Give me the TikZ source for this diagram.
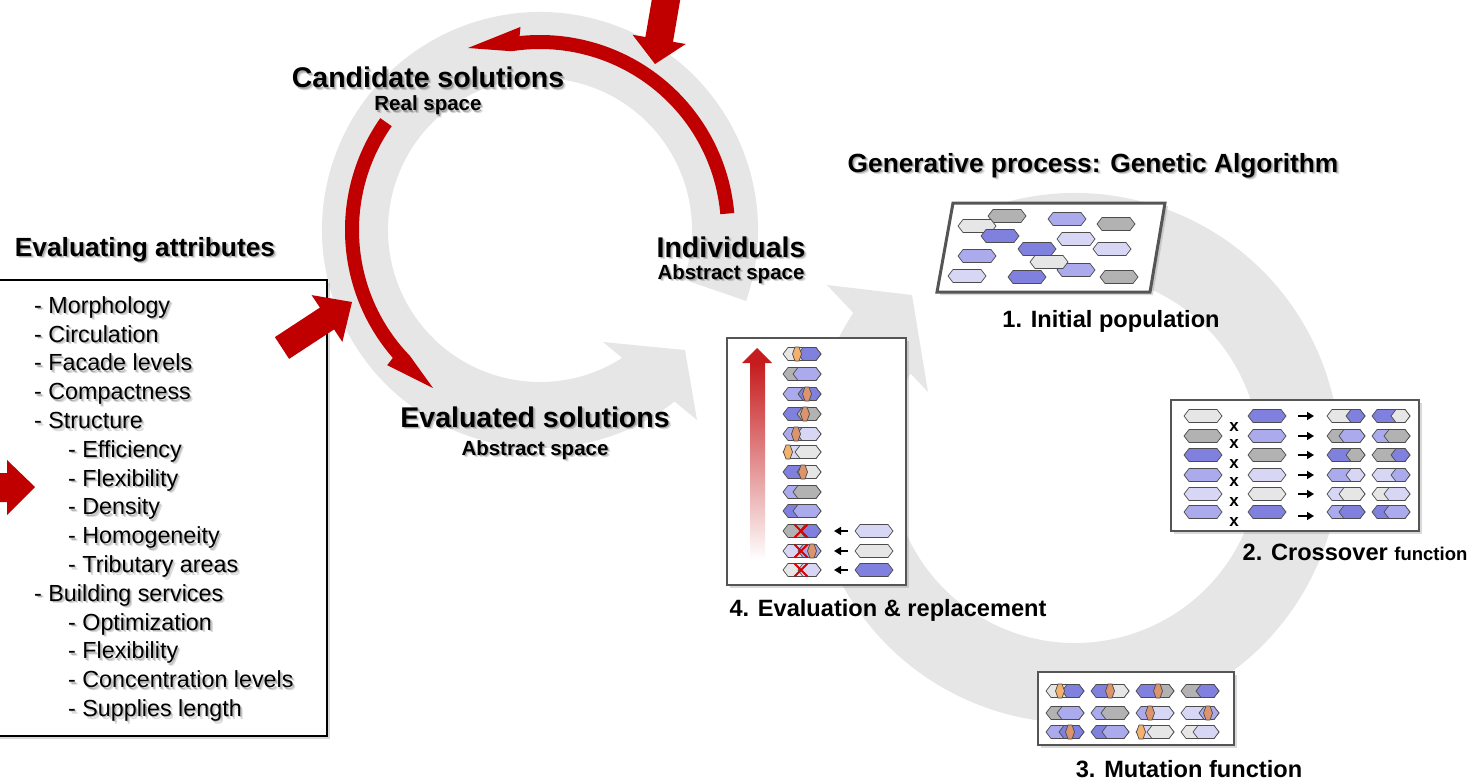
\documentclass[tikz,border=0pt]{standalone}
\usepackage{fontspec}
\setmainfont{Liberation Sans}
\usetikzlibrary{arrows.meta,calc,shadows}

\definecolor{ringgray}{RGB}{230,230,230}
\definecolor{darkred}{RGB}{192,0,0}
\definecolor{gradred}{RGB}{198,28,30}
\definecolor{xred}{RGB}{220,0,0}
\definecolor{gLight}{RGB}{230,230,230}
\definecolor{gDark}{RGB}{178,178,178}
\definecolor{bDark}{RGB}{128,128,222}
\definecolor{bMid}{RGB}{170,170,236}
\definecolor{bLight}{RGB}{215,215,245}
\definecolor{oLight}{RGB}{244,177,110}
\definecolor{oDark}{RGB}{220,148,108}
\definecolor{boxline}{RGB}{85,85,85}

\newcommand{\fsz}[1]{\fontsize{#1}{#1}\selectfont}

% text with a soft shadow: style, name, position, text
\newcommand{\shnode}[4]{%
  \node[#1, opacity=0.14] (#2-sb) at ($(#3)+(2.6,-2.6)$) {#4};
  \node[#1, opacity=0.22] (#2-sa) at ($(#3)+(1.3,-1.3)$) {#4};
  \node[#1] (#2) at (#3) {#4};}
% chromosome: x, y, colour
\newcommand{\chrom}[3]{%
  \filldraw[chromo, fill=#3] (#1-19,#2) -- (#1-14,#2+6.5) -- (#1+14,#2+6.5) -- (#1+19,#2)
    -- (#1+14,#2-6.5) -- (#1-14,#2-6.5) -- cycle;}
% two-part chromosome: x, y, left colour, right colour, split offset
\newcommand{\chromsplit}[5]{%
  \chrom{#1}{#2}{#3}
  \filldraw[chromo, fill=#4] (#1+#5-5,#2) -- (#1+#5,#2+6.5) -- (#1+14,#2+6.5) -- (#1+19,#2)
    -- (#1+14,#2-6.5) -- (#1+#5,#2-6.5) -- cycle;}
% mutated gene: x, y, colour
\newcommand{\mutgene}[3]{%
  \filldraw[chromo, fill=#3] (#1-4.5,#2) -- (#1-2,#2+7) -- (#1+2,#2+7) -- (#1+4.5,#2)
    -- (#1+2,#2-7) -- (#1-2,#2-7) -- cycle;}
% rejected individual
\newcommand{\redcross}[2]{%
  \draw[redx] (#1-6.5,#2-6.5) -- (#1+6.5,#2+6.5) (#1-6.5,#2+6.5) -- (#1+6.5,#2-6.5);}

\begin{document}
\begin{tikzpicture}[x=1pt, y=1pt,
  chromo/.style={draw=gray!60!black, line width=0.7},
  panel/.style={draw=boxline, line width=2.2, fill=white,
    drop shadow={shadow xshift=3pt, shadow yshift=-3pt, opacity=0.3}},
  lbltitle/.style={font=\bfseries\fsz{28.5}, anchor=base},
  lblsub/.style={font=\bfseries\fsz{20.5}, anchor=base},
  lblhead/.style={font=\bfseries\fsz{26.3}, anchor=base},
  lblstep/.style={font=\bfseries\fsz{23.6}, anchor=base},
  attr/.style={font=\fsz{23.3}, anchor=base west, inner sep=0pt},
  crossmark/.style={font=\bfseries\fsz{17}, inner sep=0pt},
  minarrow/.style={-{Triangle[length=7pt,width=8pt]}, line width=1.6pt},
  redx/.style={draw=xred, line width=2},
]
  \useasboundingbox (0,0) rectangle (1478,-781);

  \coordinate (L) at (540,-230);
  \coordinate (R) at (1075,-458);

  % 1. Grey cycles
  \fill[ringgray] ($(L)+(-19:218)$) arc[start angle=-19, end angle=308.1, radius=218]
    -- (697,-420) -- (685,-350) -- (603,-342)
    -- ($(L)+(302.7:152)$) arc[start angle=302.7, end angle=-19, radius=152] -- cycle;
  \fill[ringgray] ($(R)+(112:265)$) arc[start angle=112, end angle=-213.2, radius=265]
    -- (827,-285) -- (912,-295) -- (928,-392)
    -- ($(R)+(-207.2:185)$) arc[start angle=-207.2, end angle=112, radius=185] -- cycle;

  % 2. Red arcs of the left cycle
  \fill[darkred] ($(L)+(5:195)$) arc[start angle=5, end angle=96, radius=195]
    -- ($(L)+(95.5:204)$) -- (468,-48)
    -- ($(L)+(99:181)$) arc[start angle=99, end angle=5, radius=181] -- cycle;
  \fill[darkred] ($(L)+(145:195)$) arc[start angle=145, end angle=221, radius=195]
    -- ($(L)+(221.5:204)$) -- (433,-388)
    -- ($(L)+(224:181)$) arc[start angle=224, end angle=145, radius=181] -- cycle;

  % 3. Evaluating attributes
  \draw[panel, draw=black, line width=2] (-5,-280) rectangle (327,-736);
  \shnode{lblhead}{attrtitle}{145,-256}{Evaluating attributes}
  \foreach \ind/\txt [count=\i] in {0/Morphology, 0/Circulation, 0/Facade levels,
      0/Compactness, 0/Structure, 34/Efficiency, 34/Flexibility, 34/Density,
      34/Homogeneity, 34/Tributary areas, 0/Building services, 34/Optimization,
      34/Flexibility, 34/Concentration levels, 34/Supplies length} {
    \shnode{attr}{attr\i}{{34+\ind},{-313.3-28.8*(\i-1)}}{- \txt}
  }

  % 4. Red arrows
  \fill[darkred] (653,7.4) -- (645.4,-37) -- (632.6,-34.8) -- (655,-64)
    -- (685.8,-44) -- (673,-41.8) -- (680.6,2.6) -- cycle;
  \fill[darkred] (274.9,-337.1) -- (319.9,-307.6) -- (311.6,-295.1) -- (352,-302)
    -- (342.4,-341.9) -- (334.1,-329.4) -- (289.1,-358.9) -- cycle;
  \fill[darkred] (-5,-473) -- (7,-473) -- (7,-460) -- (35,-487) -- (7,-515)
    -- (7,-502) -- (-5,-502) -- cycle;

  % 5. Labels of the left cycle
  \shnode{lbltitle}{cand}{428,-88}{Candidate solutions}
  \shnode{lblsub}{candsub}{428,-111}{Real space}
  \shnode{lbltitle}{indiv}{731,-257}{Individuals}
  \shnode{lblsub}{indivsub}{731,-279}{Abstract space}
  \shnode{lbltitle}{evald}{535,-427}{Evaluated solutions}
  \shnode{lblsub}{evaldsub}{535,-455}{Abstract space}

  % 6. Genetic algorithm
  \shnode{lblhead}{gatitle}{1093,-172}{Generative process: Genetic Algorithm}

  % 6a. initial population
  \draw[panel, line width=3] (953,-203) -- (1165,-203) -- (1150,-292) -- (937,-292) -- cycle;
  \foreach \x/\y/\c in {1007/216/gDark, 977/226/gLight, 1067/219/bMid, 1116/224/gDark,
      1000/236/bDark, 1076/239/bLight, 1112/249/bLight, 1037/249/bDark, 977/256/bMid,
      1076/270/bMid, 1049/262/gLight, 967/276/bLight, 1027/277/bDark, 1119/277/gDark}
    \chrom{\x}{-\y}{\c};
  \node[lblstep] (step1) at (1111,-327) {1. Initial population};

  % 6b. crossover
  \draw[panel] (1171,-400) rectangle (1419,-531);
  \foreach \y/\pa/\pb/\s in {416/gLight/bDark/5, 436/gDark/bMid/-2, 455/bDark/gDark/5,
      475/bMid/bLight/5, 494/bLight/gLight/-2, 512/bMid/bDark/-2} {
    \chrom{1203}{-\y}{\pa}
    \chrom{1267}{-\y}{\pb}
    \chromsplit{1346}{-\y}{\pa}{\pb}{\s}
    \chromsplit{1391}{-\y}{\pb}{\pa}{\s}
  }
  \foreach \y in {427,444,464,482,502,522}
    \node[crossmark] (cx\y) at (1234,-\y) {x};
  \foreach \y in {416,436,455,475,494,516}
    \draw[minarrow] (1298,-\y) -- (1314,-\y);
  \node[lblstep] (step2) at (1355,-560) {2. Crossover {\fsz{18.5}function}};

  % 6c. mutation
  \draw[panel] (1038,-672) rectangle (1234,-745);
  \chromsplit{1065}{-691}{gLight}{bDark}{2}   \mutgene{1060}{-691}{oLight}
  \chromsplit{1110}{-691}{bDark}{gLight}{2}   \mutgene{1110}{-691}{oDark}
  \chromsplit{1155}{-691}{bDark}{gDark}{5}    \mutgene{1158}{-691}{oDark}
  \chromsplit{1200}{-691}{gDark}{bDark}{1}
  \chromsplit{1065}{-713}{gDark}{bMid}{-3}
  \chromsplit{1110}{-713}{bMid}{gDark}{-4}
  \chromsplit{1155}{-713}{bMid}{bLight}{-2}   \mutgene{1150}{-713}{oDark}
  \chromsplit{1200}{-713}{bLight}{bMid}{4}    \mutgene{1208}{-713}{oDark}
  \chromsplit{1065}{-732}{bMid}{bDark}{-1}    \mutgene{1070}{-732}{oDark}
  \chromsplit{1110}{-732}{bDark}{bMid}{-3}
  \chromsplit{1155}{-732}{bLight}{gLight}{-3} \mutgene{1141}{-732}{oLight}
  \chromsplit{1200}{-732}{gLight}{bLight}{-2}
  \node[lblstep] (step3) at (1189,-777) {3. Mutation function};

  % 6d. evaluation & replacement
  \draw[panel] (727,-338) rectangle (906,-585);
  \shade[top color=gradred, bottom color=white] (750,-363) rectangle (765,-560);
  \fill[gradred] (742,-363) -- (757,-348) -- (772,-363) -- cycle;
  \foreach \y/\ca/\cb/\s in {354/gLight/bDark/1, 374/gDark/bMid/-4, 394/bMid/bDark/1,
      414/bDark/gDark/0, 434/bMid/bLight/0, 452/bLight/gLight/-2, 472/bDark/gLight/0,
      492/bMid/gDark/-4, 511/bDark/bMid/-4, 531/gDark/bDark/3, 551/bLight/bMid/1,
      570/gLight/bLight/1}
    \chromsplit{802}{-\y}{\ca}{\cb}{\s};
  \mutgene{797}{-354}{oLight}
  \mutgene{807}{-394}{oDark}
  \mutgene{805}{-414}{oDark}
  \mutgene{796}{-434}{oDark}
  \mutgene{788}{-452}{oLight}
  \mutgene{803}{-472}{oDark}
  \mutgene{812}{-551}{oDark}
  \foreach \y/\c in {531/bLight, 551/gLight, 570/bDark} {
    \redcross{801}{-\y}
    \draw[minarrow] (848,-\y) -- (834,-\y);
    \chrom{874}{-\y}{\c}
  }
  \node[lblstep] (step4) at (888,-616) {4. Evaluation \& replacement};

\end{tikzpicture}
\end{document}
